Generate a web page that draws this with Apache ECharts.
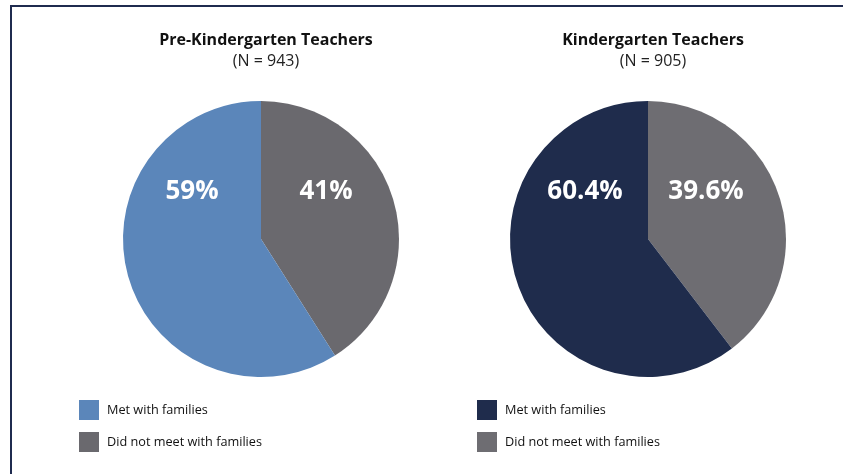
<!DOCTYPE html>
<html>
<head>
<meta charset="utf-8">
<script src="https://cdn.jsdelivr.net/npm/echarts@6/dist/echarts.min.js"></script>
<style>html,body{margin:0;padding:0;background:#fff}#c{width:843px;height:474px}</style>
</head>
<body>
<div id="c"></div>
<script>
const categories = ["Met with families", "Did not meet with families"];
const preKValues = [59, 41];
const kValues = [60.4, 39.6];
const preKLabels = ["59%", "41%"];
const kLabels = ["60.4%", "39.6%"];
const titles = ["Pre-Kindergarten Teachers", "Kindergarten Teachers"];
const subtitles = ["(N = 943)", "(N = 905)"];

const FONT = "'Open Sans', 'Noto Sans', sans-serif";
const colorsL = ["#5b86ba", "#6a696e"];
const colorsR = ["#1f2c4c", "#6e6d72"];
const centers = [[261, 239], [648, 239]];
const R = 138;

function pieData(vals, colors, tag) {
  // gray slice first clockwise from top, then the "met" slice
  return [1, 0].map(i => ({
    name: categories[i] + "|" + tag,
    value: vals[i],
    itemStyle: { color: colors[i] }
  }));
}

function pctText(x, y, text) {
  return {
    type: 'text', x: x, y: y, z: 100,
    style: { text: text, fill: '#fff', fontFamily: FONT, fontSize: 26, fontWeight: 'bold', align: 'center', verticalAlign: 'middle' }
  };
}

const chart = echarts.init(document.getElementById('c'), null, { renderer: 'canvas' });
chart.setOption({
  backgroundColor: '#fff',
  animation: false,
  title: [
    { text: titles[0], subtext: subtitles[0], left: 261, top: 27, textAlign: 'center', itemGap: 5,
      textStyle: { fontFamily: FONT, fontSize: 16, fontWeight: 'bold', color: '#111' },
      subtextStyle: { fontFamily: FONT, fontSize: 16, color: '#222' } },
    { text: titles[1], subtext: subtitles[1], left: 648, top: 27, textAlign: 'center', itemGap: 5,
      textStyle: { fontFamily: FONT, fontSize: 16, fontWeight: 'bold', color: '#111' },
      subtextStyle: { fontFamily: FONT, fontSize: 16, color: '#222' } }
  ],
  legend: [
    { orient: 'vertical', left: 74, top: 395, itemWidth: 20, itemHeight: 20, itemGap: 12, icon: 'rect',
      selectedMode: false,
      data: categories.map(c => c + "|PK"),
      formatter: n => n.split('|')[0],
      textStyle: { fontFamily: FONT, fontSize: 12.7, color: '#111', padding: [0, 0, 0, 3] } },
    { orient: 'vertical', left: 472, top: 395, itemWidth: 20, itemHeight: 20, itemGap: 12, icon: 'rect',
      selectedMode: false,
      data: categories.map(c => c + "|K"),
      formatter: n => n.split('|')[0],
      textStyle: { fontFamily: FONT, fontSize: 12.7, color: '#111', padding: [0, 0, 0, 3] } }
  ],
  series: [
    { type: 'pie', center: centers[0], radius: R, startAngle: 90, clockwise: true,
      label: { show: false }, labelLine: { show: false }, silent: true,
      data: pieData(preKValues, colorsL, 'PK') },
    { type: 'pie', center: centers[1], radius: R, startAngle: 90, clockwise: true,
      label: { show: false }, labelLine: { show: false }, silent: true,
      data: pieData(kValues, colorsR, 'K') }
  ],
  graphic: [
    { type: 'rect', z: 100, shape: { x: 10, y: 5, width: 840, height: 2 }, style: { fill: '#1f2b4f' } },
    { type: 'rect', z: 100, shape: { x: 10, y: 5, width: 2, height: 480 }, style: { fill: '#1f2b4f' } },
    pctText(centers[0][0] - 69, 192, preKLabels[0]),
    pctText(centers[0][0] + 65, 192, preKLabels[1]),
    pctText(centers[1][0] - 63, 192, kLabels[0]),
    pctText(centers[1][0] + 58, 192, kLabels[1])
  ]
});
</script>
</body>
</html>
